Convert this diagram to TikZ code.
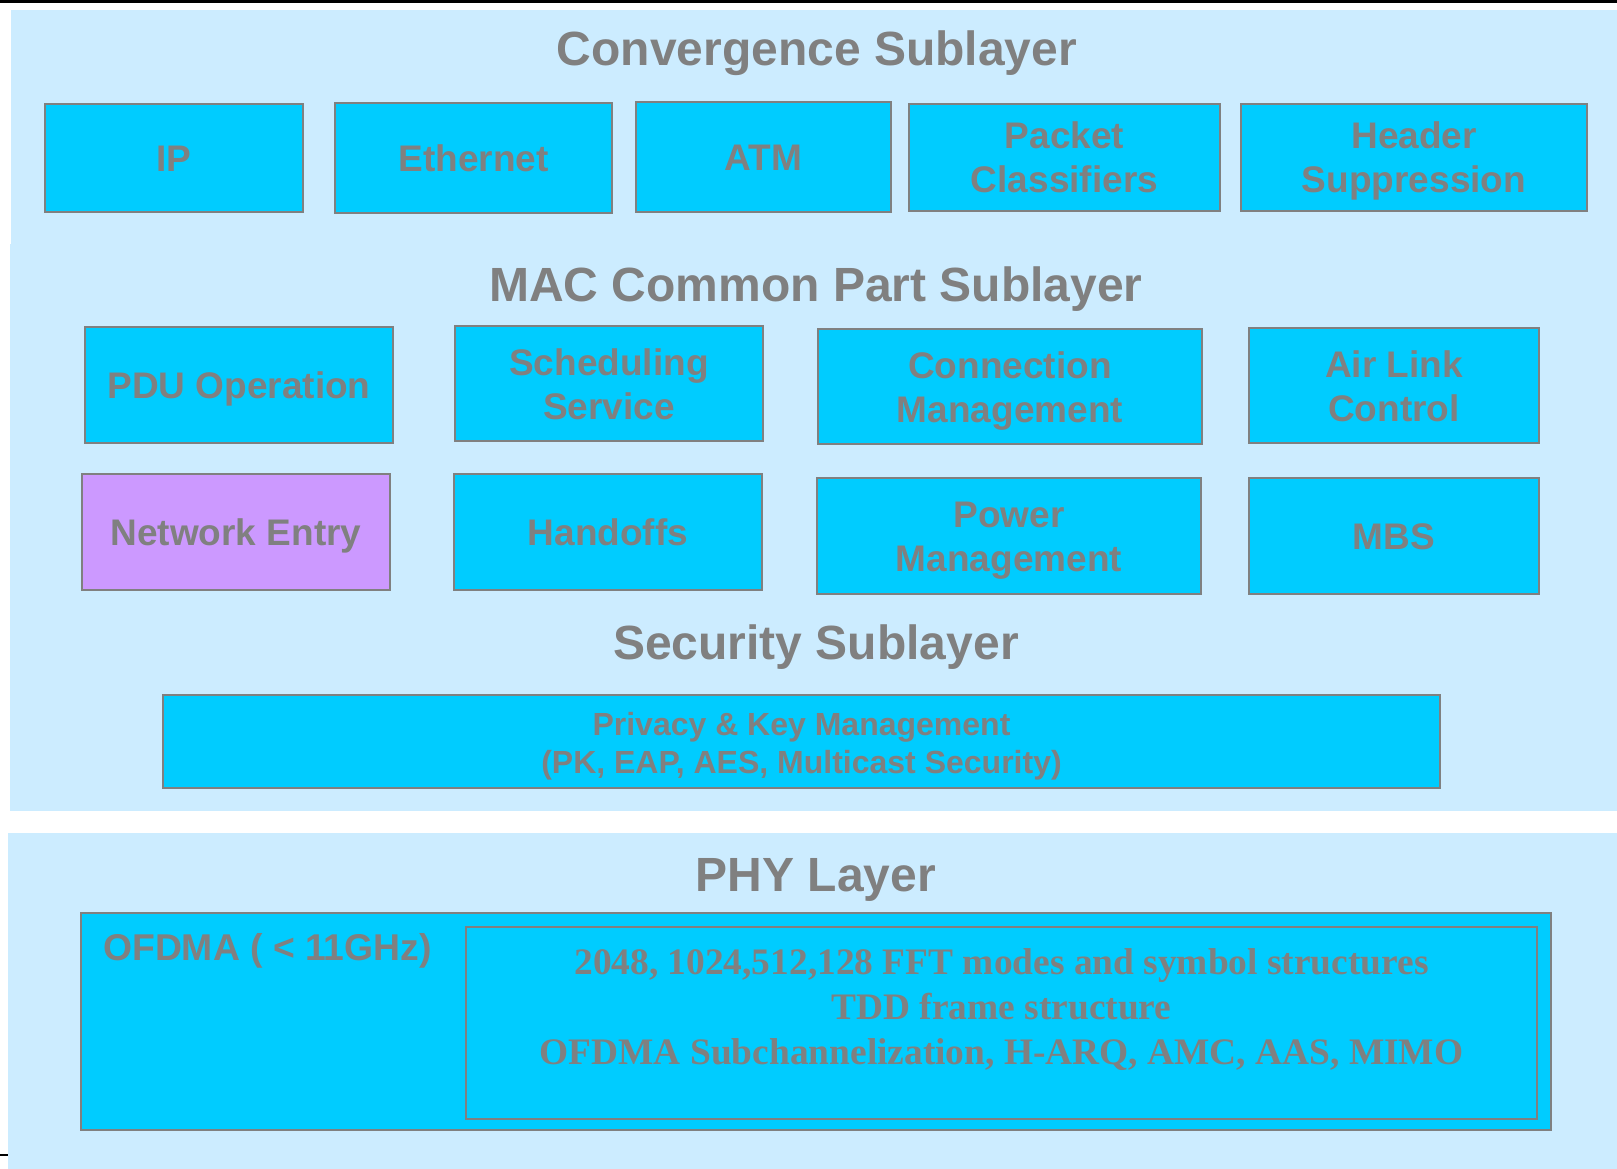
\documentclass[tikz,border=0pt]{standalone}
\usepackage{fontspec}
\setmainfont{Liberation Sans}
\newfontfamily\serifbf{Liberation Serif}
\definecolor{bandblue}{HTML}{CCECFF}
\definecolor{boxcyan}{HTML}{00CCFF}
\definecolor{boxpurple}{HTML}{CC99FF}
\definecolor{boxgray}{HTML}{808080}
\begin{document}
\begin{tikzpicture}[x=1pt,y=-1pt,
  box/.style={draw=boxgray, line width=2.5pt, fill=boxcyan, text=boxgray,
    font=\bfseries\fontsize{37}{44}\selectfont, align=center, inner sep=0pt},
  one/.style={text height=35pt, text depth=8pt},
  two/.style={text height=79pt, text depth=8pt},
  title/.style={text=boxgray, font=\bfseries\fontsize{48}{58}\selectfont, anchor=base, inner sep=0pt},
  label/.style={text=boxgray, inner sep=0pt}]
\useasboundingbox (0,0) rectangle (1617,1169);
% backgrounds
\fill[white] (0,0) rectangle (1617,1169);
\fill[black] (0,0) rectangle (1617,2.7);
\fill[bandblue] (11,10) rectangle (1617,244);
\fill[bandblue] (10,244) rectangle (1617,811);
\fill[bandblue] (8,833) rectangle (1617,1169);
\fill[black] (0,1154) rectangle (8,1156);
% titles
\node[title] (tconv) at (817,66) {Convergence Sublayer};
\node[title] (tmac) at (816,301) {MAC Common Part Sublayer};
\node[title] (tsec) at (816,659) {Security Sublayer};
\node[title] (tphy) at (816,891) {PHY Layer};
% convergence boxes
\node[box, one, minimum width=258pt, minimum height=108pt] (ip) at (174,158) {IP};
\node[box, one, minimum width=277pt, minimum height=110pt] (eth) at (473.5,158) {Ethernet};
\node[box, one, minimum width=255pt, minimum height=110pt] (atm) at (763.5,157) {ATM};
\node[box, two, minimum width=311pt, minimum height=107pt] (pkt) at (1064.5,157.5) {Packet\\Classifiers};
\node[box, two, minimum width=346pt, minimum height=107pt] (hdr) at (1414,157.5) {Header\\Suppression};
% MAC boxes
\node[box, one, minimum width=308pt, minimum height=116pt] (pdu) at (239,385) {PDU Operation};
\node[box, two, minimum width=308pt, minimum height=115pt] (sched) at (609,383.5) {Scheduling\\Service};
\node[box, two, minimum width=384pt, minimum height=115pt] (conn) at (1010,386.5) {Connection\\Management};
\node[box, two, minimum width=290pt, minimum height=115pt] (alc) at (1394,385.5) {Air Link\\Control};
\node[box, one, fill=boxpurple, minimum width=308pt, minimum height=116pt] (net) at (236,532) {Network Entry};
\node[box, one, minimum width=308pt, minimum height=116pt] (hand) at (608,532) {Handoffs};
\node[box, two, minimum width=384pt, minimum height=116pt] (pow) at (1009,536) {Power\\Management};
\node[box, one, minimum width=290pt, minimum height=116pt] (mbs) at (1394,536) {MBS};
% security
\node[box, font=\bfseries\fontsize{32}{38}\selectfont, text height=71pt, minimum width=1277pt, minimum height=93pt] (priv) at (801.5,741.5) {Privacy \& Key Management\\(PK, EAP, AES, Multicast Security)};
% PHY
\node[box, minimum width=1470pt, minimum height=217pt] (ofdma) at (816,1021.5) {};
\node[box, minimum width=1071pt, minimum height=192pt] (inner) at (1001.5,1023) {};
\node[label, font=\bfseries\fontsize{37.3}{44}\selectfont, anchor=base west] (ofl) at (103,960) {OFDMA ( < 11GHz)};
\node[label, font=\serifbf\bfseries\fontsize{37.4}{45}\selectfont, align=center, anchor=north] (phyt) at (1001.5,948)
  {2048, 1024,512,128 FFT modes and symbol structures\\TDD frame structure\\OFDMA Subchannelization, H-ARQ, AMC, AAS, MIMO};
\end{tikzpicture}
\end{document}
